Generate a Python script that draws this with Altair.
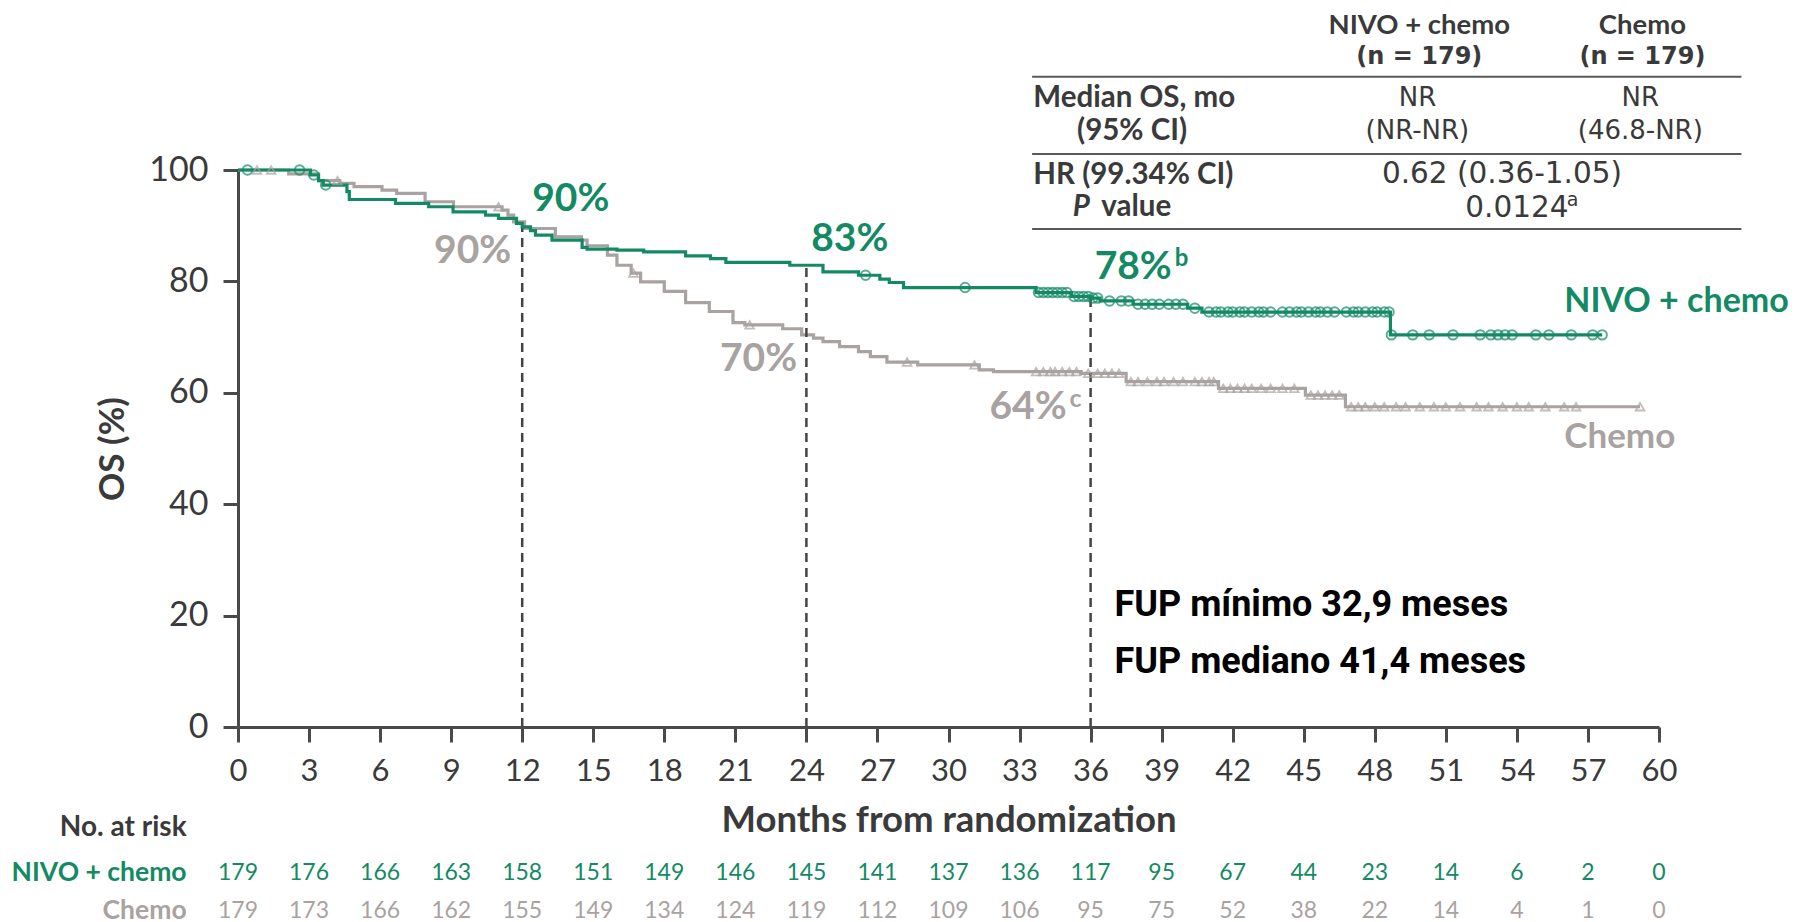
import altair as alt
import pandas as pd

GREEN = "#138a64"
GRAY = "#a8a3a0"
DARK = "#3a3a3a"
FONT = "Lato"
NUMFONT = "DejaVu Sans"

# ---- Kaplan-Meier step points (month, OS %) ----
nivo_t = [0, 3.06, 3.4, 3.6, 4.6, 4.7, 6.65, 8.05, 9.08, 10.45, 11.0, 11.76, 12.0, 12.35, 12.56,
          13.26, 14.53, 14.74, 16.0, 17.13, 18.9, 19.95, 20.6, 23.3, 24.7, 26.2, 27.1, 27.5, 28.1,
          33.7, 35.2, 36.0, 36.4, 37.8, 40.1, 40.7, 48.66, 57.6]
nivo_s = [100, 99.1, 98.1, 97.3, 96.1, 94.7, 94.0, 93.4, 92.5, 91.9, 91.3, 90.4, 89.8, 89.1, 88.3,
          87.4, 86.1, 85.8, 85.6, 85.3, 84.6, 84.1, 83.4, 82.9, 81.7, 81.1, 80.4, 79.8, 78.9,
          78.0, 77.3, 77.0, 76.5, 75.9, 75.2, 74.5, 70.4, 70.4]

chemo_t = [0, 2.14, 3.4, 4.3, 4.9, 6.08, 6.7, 7.9, 9.1, 11.15, 11.4, 11.64, 12.1, 13.4, 14.5,
           14.74, 15.6, 16.0, 16.6, 17.0, 18.0, 18.9, 19.9, 20.9, 21.4, 23.0, 23.8, 24.3, 24.7,
           25.4, 26.2, 26.7, 27.4, 28.7, 31.3, 31.9, 35.6, 37.5, 41.4, 45.07, 46.76, 59.2]
chemo_s = [100, 99.3, 98.1, 97.6, 97.0, 96.4, 95.8, 94.3, 93.4, 92.8, 91.9, 90.7, 89.5, 88.0, 87.4,
           86.4, 84.7, 82.9, 81.5, 79.9, 78.2, 76.2, 74.6, 72.6, 72.2, 71.5, 70.4, 69.8, 69.2,
           68.3, 67.4, 66.5, 65.5, 65.0, 64.1, 63.8, 63.5, 62.0, 60.8, 59.6, 57.5, 57.5]

# censoring times (months)
nivo_cens = [0.4, 2.6, 3.2, 3.7, 26.5, 30.7,
             33.8, 34.0, 34.2, 34.4, 34.6, 34.8, 35.0, 35.3, 35.5, 35.7, 35.9, 36.1, 36.3,
             36.8, 37.3, 37.6, 38.0, 38.3, 38.6, 38.9, 39.3, 39.6, 39.9, 40.4,
             41.0, 41.3, 41.5, 41.8, 42.0, 42.3, 42.5, 42.8, 43.1, 43.3, 43.6, 44.1, 44.4,
             44.7, 44.9, 45.2, 45.5, 45.7, 46.0, 46.3, 46.8, 47.1, 47.3, 47.6, 47.9, 48.1,
             48.4, 48.6, 48.7, 49.6, 50.3, 51.3, 52.45, 52.9, 53.2, 53.5, 53.8, 54.8, 55.35,
             56.3, 57.2, 57.6]
chemo_cens = [0.8, 1.4, 4.2, 11.0, 16.7, 21.6, 28.25, 31.1, 33.7,
              34.0, 34.3, 34.5, 34.8, 35.1, 35.4, 35.9, 36.3, 36.6, 36.9, 37.2,
              37.7, 38.0, 38.4, 38.8, 39.1, 39.5, 39.9, 40.4, 40.7, 41.0, 41.2,
              41.6, 41.9, 42.2, 42.5, 42.8, 43.2, 43.6, 44.1, 44.6,
              45.3, 45.6, 45.9, 46.2, 46.5,
              47.0, 47.3, 47.6, 48.0, 48.4, 48.9, 49.3, 49.9, 50.5, 51.0, 51.6, 52.3, 52.8,
              53.4, 54.0, 54.5, 55.2, 56.0, 56.5, 59.2]

# number at risk
risk_months = list(range(0, 61, 3))
nivo_risk = [179, 176, 166, 163, 158, 151, 149, 146, 145, 141, 137, 136, 117, 95, 67, 44, 23, 14, 6, 2, 0]
chemo_risk = [179, 173, 166, 162, 155, 149, 134, 124, 119, 112, 109, 106, 95, 75, 52, 38, 22, 14, 4, 1, 0]

# landmark lines
landmark_t = [12, 24, 36]
landmark_top = [89.8, 82.9, 77.0]


def step_value(ts, ss, t):
    v = ss[0]
    for a, b in zip(ts, ss):
        if a <= t:
            v = b
    return v


nivo_df = pd.DataFrame({"x": nivo_t, "y": nivo_s})
chemo_df = pd.DataFrame({"x": chemo_t, "y": chemo_s})
nivo_c_df = pd.DataFrame({"x": nivo_cens, "y": [step_value(nivo_t, nivo_s, t) for t in nivo_cens]})
chemo_c_df = pd.DataFrame({"x": chemo_cens, "y": [step_value(chemo_t, chemo_s, t) for t in chemo_cens]})

xs = alt.Scale(domain=[0, 60], nice=False, zero=False)
ys = alt.Scale(domain=[0, 100], nice=False, zero=False)

x_axis = alt.Axis(values=risk_months, title="Months from randomization", grid=False,
                  tickSize=15, tickWidth=3, domainWidth=3, domainColor="#4a4a4a", tickColor="#4a4a4a",
                  labelFont=FONT, labelFontSize=31, labelColor=DARK, labelPadding=14, labelFlush=False,
                  titleFont=FONT, titleFontSize=36.5, titleFontWeight="bold", titleColor=DARK,
                  titlePadding=16)
y_axis = alt.Axis(values=[0, 20, 40, 60, 80, 100], title="OS (%)", grid=False,
                  tickSize=15, tickWidth=3, domainWidth=3, domainColor="#4a4a4a", tickColor="#4a4a4a",
                  labelFont=FONT, labelFontSize=34, labelColor=DARK, labelPadding=15,
                  titleFont=FONT, titleFontSize=35, titleFontWeight="bold", titleColor=DARK,
                  titlePadding=18)


def X():
    return alt.X("x:Q", scale=xs, axis=x_axis)


def Y():
    return alt.Y("y:Q", scale=ys, axis=y_axis)


chemo_line = alt.Chart(chemo_df).mark_line(interpolate="step-after", color=GRAY, strokeWidth=3.2).encode(
    x=X(), y=Y())
nivo_line = alt.Chart(nivo_df).mark_line(interpolate="step-after", color=GREEN, strokeWidth=3.2).encode(
    x=X(), y=Y())
chemo_pts = alt.Chart(chemo_c_df).mark_point(shape="triangle-up", filled=False, color=GRAY,
                                             size=75, strokeWidth=1.8).encode(x=X(), y=Y())
nivo_pts = alt.Chart(nivo_c_df).mark_point(shape="circle", filled=False, color=GREEN,
                                           size=90, strokeWidth=2).encode(x=X(), y=Y())

land_df = pd.DataFrame({"x": landmark_t, "y": [0, 0, 0], "y2": landmark_top})
landmarks = alt.Chart(land_df).mark_rule(color="#444444", strokeWidth=2.5, strokeDash=[9, 6]).encode(
    x=X(), y=Y(), y2="y2:Q")


def txt(rows, **kw):
    df = pd.DataFrame(rows, columns=["x", "y", "text"])
    base = dict(font=FONT, baseline="middle")
    base.update(kw)
    return alt.Chart(df).mark_text(**base).encode(x=X(), y=Y(), text="text:N")


# landmark percentages
pct_green = txt([[12.42, 94.8, "90%"], [24.2, 87.6, "83%"], [36.17, 82.5, "78%"]],
                align="left", fontSize=39, fontWeight="bold", color=GREEN)
pct_gray = txt([[11.54, 85.5, "90%"], [23.61, 66.0, "70%"], [34.99, 57.5, "64%"]],
               align="right", fontSize=39, fontWeight="bold", color=GRAY)
sup_green = txt([[39.55, 84.0, "b"]], align="left", fontSize=24, fontWeight="bold", color=GREEN)
sup_gray = txt([[35.11, 58.9, "c"]], align="left", fontSize=25, fontWeight="bold", color=GRAY)

# curve labels
lab_green = txt([[56.0, 76.35, "NIVO + chemo"]], align="left", fontSize=34, fontWeight="bold", color=GREEN)
lab_gray = txt([[56.0, 52.0, "Chemo"]], align="left", fontSize=35, fontWeight="bold", color=GRAY)

# follow-up note
fup = txt([[37.01, 21.9, "FUP mínimo 32,9 meses"], [37.01, 11.67, "FUP mediano 41,4 meses"]],
          align="left", fontSize=36, fontWeight="bold", color="#000000", font="Roboto")

# summary table
tbl_head = txt([[49.88, 125.8, "NIVO + chemo"], [59.3, 125.8, "Chemo"]],
               align="center", fontSize=27.5, fontWeight="bold", color=DARK)
tbl_head2 = txt([[49.88, 120.3, "(n = 179)"], [59.3, 120.3, "(n = 179)"]],
                align="center", fontSize=24, fontWeight="bold", color=DARK, font=NUMFONT)
tbl_rowlab = txt([[33.58, 112.87, "Median OS, mo"], [33.58, 99.1, "HR (99.34% CI)"]],
                 align="left", fontSize=29.5, fontWeight="bold", color=DARK)
tbl_rowlab2 = txt([[37.75, 107.06, "(95% CI)"]], align="center", fontSize=29.5, fontWeight="bold", color=DARK)
tbl_p = txt([[35.25, 93.36, "P"]], align="left", fontSize=29.5, fontWeight="bold", fontStyle="italic", color=DARK)
tbl_value = txt([[36.45, 93.36, "value"]], align="left", fontSize=29.5, fontWeight="bold", color=DARK)
tbl_nr = txt([[49.8, 112.87, "NR"], [49.8, 107.06, "(NR-NR)"],
              [59.21, 112.87, "NR"], [59.21, 107.06, "(46.8-NR)"]],
             align="center", fontSize=26, color=DARK, font=NUMFONT)
tbl_vals = txt([[53.37, 99.3, "0.62 (0.36-1.05)"], [54.0, 93.2, "0.0124"]],
               align="center", fontSize=29.5, color=DARK, font=NUMFONT)
tbl_sup = txt([[56.1, 94.7, "a"]], align="left", fontSize=19, color=DARK, font=NUMFONT)
rule_df = pd.DataFrame({"x": [33.53] * 3, "x2": [63.48] * 3, "y": [116.75, 102.87, 89.4]})
tbl_rules = alt.Chart(rule_df).mark_rule(color="#5a5a5a", strokeWidth=2).encode(
    x=X(), x2="x2:Q", y=Y())

# number at risk table
risk_head = txt([[-2.17, -18.1, "No. at risk"]], align="right", fontSize=28, fontWeight="bold", color=DARK)
risk_lab_g = txt([[-2.17, -26.3, "NIVO + chemo"]], align="right", fontSize=26.5, fontWeight="bold", color=GREEN)
risk_lab_c = txt([[-2.17, -33.0, "Chemo"]], align="right", fontSize=26.5, fontWeight="bold", color=GRAY)
risk_g = txt([[m, -26.3, str(v)] for m, v in zip(risk_months, nivo_risk)],
             align="center", fontSize=23, color=GREEN)
risk_c = txt([[m, -33.0, str(v)] for m, v in zip(risk_months, chemo_risk)],
             align="center", fontSize=23, color=GRAY)

chart = alt.layer(
    chemo_line, landmarks, nivo_line, chemo_pts, nivo_pts,
    pct_green, pct_gray, sup_green, sup_gray, lab_green, lab_gray, fup,
    tbl_rules, tbl_head, tbl_head2, tbl_rowlab, tbl_rowlab2, tbl_p, tbl_value, tbl_nr, tbl_vals, tbl_sup,
    risk_head, risk_lab_g, risk_lab_c, risk_g, risk_c,
).properties(
    width=1421, height=557,
    autosize=alt.AutoSizeParams(type="none"),
    padding={"left": 230, "top": 162, "right": 133, "bottom": 199},
    background="white",
).configure_view(stroke=None)

chart.save("out.html", embed_options={"renderer": "svg", "actions": False})
